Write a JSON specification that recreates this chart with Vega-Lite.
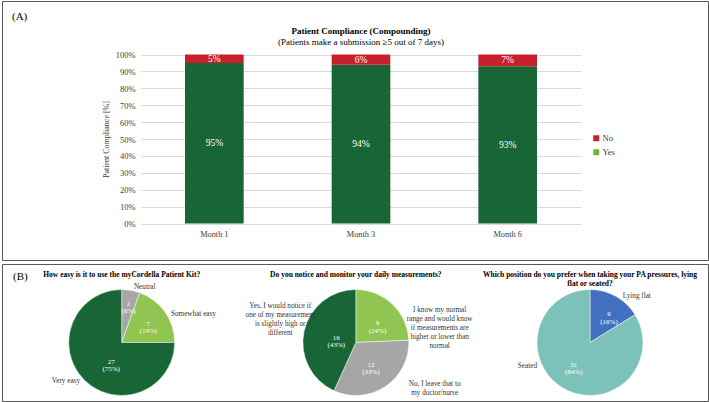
{
  "$schema": "https://vega.github.io/schema/vega-lite/v6.json",
  "background": "white",
  "padding": {"left": 1, "top": 0, "right": 2, "bottom": 0},
  "title": {"text": "(A)", "anchor": "start", "offset": -21, "dx": 10.5, "fontSize": 11, "fontWeight": "normal", "font": "Liberation Serif", "color": "#000000"},
  "spacing": 0,
  "resolve": {"scale": {"color": "independent"}, "legend": {"color": "independent"}},
  "vconcat": [
    {
      "width": 706,
      "height": 259,
      "title": {"text": "Patient Compliance (Compounding)", "subtitle": "(Patients make a submission ≥5 out of 7 days)", "anchor": "middle", "dx": 6, "offset": -46, "font": "Liberation Serif", "fontSize": 9, "fontWeight": "bold", "color": "#000000", "subtitleFont": "Liberation Serif", "subtitleFontSize": 9, "subtitleColor": "#000000", "subtitlePadding": 2},
      "data": {"values": [
        {"m": "Month 1", "ans": "Yes", "v": 0.95, "o": 1, "lab": "95%"},
        {"m": "Month 1", "ans": "No", "v": 0.05, "o": 2, "lab": "5%"},
        {"m": "Month 3", "ans": "Yes", "v": 0.94, "o": 1, "lab": "94%"},
        {"m": "Month 3", "ans": "No", "v": 0.06, "o": 2, "lab": "6%"},
        {"m": "Month 6", "ans": "Yes", "v": 0.93, "o": 1, "lab": "93%"},
        {"m": "Month 6", "ans": "No", "v": 0.07, "o": 2, "lab": "7%"}
      ]},
      "layer": [
        {
          "mark": {"type": "square", "opacity": 0, "size": 4},
          "encoding": {
            "x": {"field": "m", "type": "nominal", "scale": {"domain": ["Month 1", "Month 3", "Month 6"], "range": [139, 579], "paddingInner": 0.6, "paddingOuter": 0.3}, "axis": {"title": null, "orient": "bottom", "offset": -36.5, "domain": false, "ticks": false, "labelPadding": 6, "labelFontSize": 8.3, "labelColor": "#404040", "labelAngle": 0, "grid": false}},
            "y": {"field": "v", "type": "quantitative", "stack": null, "scale": {"domain": [0, 1], "range": [222.5, 53.5], "nice": false}, "axis": {"title": "Patient Compliance [%]", "orient": "left", "offset": -139, "format": ".0%", "values": [0, 0.1, 0.2, 0.3, 0.4, 0.5, 0.6, 0.7, 0.8, 0.9, 1], "domain": false, "ticks": false, "grid": true, "gridColor": "#d9d9d9", "gridWidth": 1, "labelPadding": 6, "labelFontSize": 8.5, "labelColor": "#404040", "titleFontSize": 8, "titleFontWeight": "normal", "titleColor": "#404040", "titlePadding": 5}},
            "color": {"field": "ans", "type": "nominal", "scale": {"domain": ["No", "Yes"], "range": ["#c8202b", "#6db33f"]}, "legend": {"title": null, "orient": "none", "legendX": 590, "legendY": 133, "symbolType": "square", "symbolSize": 36, "symbolOpacity": 1, "symbolStrokeWidth": 0, "labelFontSize": 8.5, "labelColor": "#404040", "labelOffset": 2, "rowPadding": 5, "padding": 0}}
          }
        },
        {
          "mark": {"type": "bar"},
          "encoding": {
            "x": {"field": "m", "type": "nominal", "scale": {"domain": ["Month 1", "Month 3", "Month 6"], "range": [139, 579], "paddingInner": 0.6, "paddingOuter": 0.3}, "axis": {"title": null, "orient": "bottom", "offset": -36.5, "domain": false, "ticks": false, "labelPadding": 6, "labelFontSize": 8.3, "labelColor": "#404040", "labelAngle": 0, "grid": false}},
            "y": {"field": "v", "type": "quantitative", "stack": "zero", "scale": {"domain": [0, 1], "range": [222.5, 53.5], "nice": false}, "axis": {"title": "Patient Compliance [%]", "orient": "left", "offset": -139, "format": ".0%", "values": [0, 0.1, 0.2, 0.3, 0.4, 0.5, 0.6, 0.7, 0.8, 0.9, 1], "domain": false, "ticks": false, "grid": true, "gridColor": "#d9d9d9", "gridWidth": 1, "labelPadding": 6, "labelFontSize": 8.5, "labelColor": "#404040", "titleFontSize": 8, "titleFontWeight": "normal", "titleColor": "#404040", "titlePadding": 5}},
            "fill": {"field": "ans", "type": "nominal", "scale": {"domain": ["No", "Yes"], "range": ["#c8202b", "#186636"]}, "legend": null},
            "detail": {"field": "ans", "type": "nominal"},
            "order": {"field": "o", "type": "quantitative"}
          }
        },
        {
          "mark": {"type": "text", "fill": "#ffffff", "fontSize": 9.5, "baseline": "middle", "align": "center"},
          "encoding": {
            "x": {"field": "m", "type": "nominal", "scale": {"domain": ["Month 1", "Month 3", "Month 6"], "range": [139, 579], "paddingInner": 0.6, "paddingOuter": 0.3}, "axis": {"title": null, "orient": "bottom", "offset": -36.5, "domain": false, "ticks": false, "labelPadding": 6, "labelFontSize": 8.3, "labelColor": "#404040", "labelAngle": 0, "grid": false}},
            "y": {"field": "v", "type": "quantitative", "stack": "zero", "bandPosition": 0.5, "scale": {"domain": [0, 1], "range": [222.5, 53.5], "nice": false}, "axis": {"title": "Patient Compliance [%]", "orient": "left", "offset": -139, "format": ".0%", "values": [0, 0.1, 0.2, 0.3, 0.4, 0.5, 0.6, 0.7, 0.8, 0.9, 1], "domain": false, "ticks": false, "grid": true, "gridColor": "#d9d9d9", "gridWidth": 1, "labelPadding": 6, "labelFontSize": 8.5, "labelColor": "#404040", "titleFontSize": 8, "titleFontWeight": "normal", "titleColor": "#404040", "titlePadding": 5}},
            "detail": {"field": "ans", "type": "nominal"},
            "order": {"field": "o", "type": "quantitative"},
            "text": {"field": "lab", "type": "nominal"}
          }
        }
      ]
    },
    {
      "width": 706,
      "height": 137,
      "title": {"text": "(B)", "anchor": "start", "offset": -20, "dx": 11, "fontSize": 11, "fontWeight": "normal", "font": "Liberation Serif", "color": "#000000"},
      "resolve": {"scale": {"theta": "independent"}},
      "layer": [
        {
          "data": {"values": [
            {"q": "q1", "t": "How easy is it to use the myCordella Patient Kit?"},
            {"q": "q2", "t": "Do you notice and monitor your daily measurements?"},
            {"q": "q3", "t": "Which position do you prefer when taking your PA pressures, lying\nflat or seated?"}
          ]},
          "mark": {"type": "text", "baseline": "top", "align": "center", "fontWeight": "bold", "fontSize": 7.5, "lineBreak": "\n", "lineHeight": 9, "fill": "#000000"},
          "encoding": {
            "x": {"field": "q", "type": "nominal", "scale": {"type": "point", "domain": ["q1", "q2", "q3"], "range": [119.7, 588], "padding": 0}, "axis": null},
            "y": {"datum": "title", "type": "nominal", "scale": {"type": "point", "domain": ["title", "pie"], "range": [6.5, 78.5], "padding": 0}, "axis": null},
            "text": {"field": "t", "type": "nominal"}
          }
        },
        {
          "data": {"values": [
            {"q": "q1", "cat": "neutral", "n": 2, "o": 1, "lab": "Neutral", "pct": "2\n(6%)"},
            {"q": "q1", "cat": "somewhat", "n": 7, "o": 2, "lab": "Somewhat easy", "pct": "7\n(19%)"},
            {"q": "q1", "cat": "very", "n": 27, "o": 3, "lab": "Very easy", "pct": "27\n(75%)"}
          ]},
          "encoding": {
            "theta": {"field": "n", "type": "quantitative", "stack": true},
            "order": {"field": "o", "type": "quantitative"},
            "detail": {"field": "cat", "type": "nominal"},
            "x": {"field": "q", "type": "nominal", "scale": {"type": "point", "domain": ["q1", "q2", "q3"], "range": [119.7, 588], "padding": 0}, "axis": null},
            "y": {"datum": "pie", "type": "nominal", "scale": {"type": "point", "domain": ["title", "pie"], "range": [6.5, 78.5], "padding": 0}, "axis": null}
          },
          "layer": [
            {"mark": {"type": "arc", "outerRadius": 53, "stroke": "#ffffff", "strokeWidth": 0.5},
             "encoding": {"color": {"field": "cat", "type": "nominal", "scale": {"domain": ["neutral", "somewhat", "very", "knowrange", "leave", "notice", "lying", "seated"], "range": ["#a6a6a6", "#8fc550", "#186636", "#8fc550", "#a6a6a6", "#186636", "#4170c0", "#7cc2b9"]}, "legend": null}}},
            {"mark": {"type": "text", "radius": 39.5, "fill": "#ffffff", "fontSize": 7, "lineBreak": "\n", "lineHeight": 7.2, "align": "center", "baseline": "middle"},
             "encoding": {"text": {"condition": {"test": "datum.cat === 'neutral'", "field": "pct", "type": "nominal"}, "value": ""}}},
            {"mark": {"type": "text", "radius": 32.5, "fill": "#ffffff", "fontSize": 7, "lineBreak": "\n", "lineHeight": 7.2, "align": "center", "baseline": "middle"},
             "encoding": {"text": {"condition": {"test": "datum.cat === 'somewhat'", "field": "pct", "type": "nominal"}, "value": ""}}},
            {"mark": {"type": "text", "radius": 22, "dx": 5, "dy": 4, "fill": "#ffffff", "fontSize": 7, "lineBreak": "\n", "lineHeight": 7.2, "align": "center", "baseline": "middle"},
             "encoding": {"text": {"condition": {"test": "datum.cat === 'very'", "field": "pct", "type": "nominal"}, "value": ""}}},
            {"mark": {"type": "text", "radius": 56, "dx": 2.5, "align": "left", "baseline": "middle", "fill": "#333333", "fontSize": 7.2, "lineBreak": "\n", "lineHeight": 8.9},
             "encoding": {"text": {"condition": {"test": "datum.cat === 'neutral'", "field": "lab", "type": "nominal"}, "value": ""}}},
            {"mark": {"type": "text", "radius": 57, "dx": 2.6, "dy": 3.7, "align": "left", "baseline": "middle", "fill": "#333333", "fontSize": 7.2, "lineBreak": "\n", "lineHeight": 8.9},
             "encoding": {"text": {"condition": {"test": "datum.cat === 'somewhat'", "field": "lab", "type": "nominal"}, "value": ""}}},
            {"mark": {"type": "text", "radius": 57, "dx": -1.4, "dy": -1.7, "align": "right", "baseline": "middle", "fill": "#333333", "fontSize": 7.2, "lineBreak": "\n", "lineHeight": 8.9},
             "encoding": {"text": {"condition": {"test": "datum.cat === 'very'", "field": "lab", "type": "nominal"}, "value": ""}}}
          ]
        },
        {
          "data": {"values": [
            {"q": "q2", "cat": "knowrange", "n": 9, "o": 1, "lab": "I know my normal\nrange and would know\nif measurements are\nhigher or lower than\nnormal", "pct": "9\n(24%)"},
            {"q": "q2", "cat": "leave", "n": 12, "o": 2, "lab": "No, I leave that to\nmy doctor/nurse", "pct": "12\n(33%)"},
            {"q": "q2", "cat": "notice", "n": 16, "o": 3, "lab": "Yes, I would notice if\none of my measurement\nis slightly high or\ndifferent", "pct": "16\n(43%)"}
          ]},
          "encoding": {
            "theta": {"field": "n", "type": "quantitative", "stack": true},
            "order": {"field": "o", "type": "quantitative"},
            "detail": {"field": "cat", "type": "nominal"},
            "x": {"field": "q", "type": "nominal", "scale": {"type": "point", "domain": ["q1", "q2", "q3"], "range": [119.7, 588], "padding": 0}, "axis": null},
            "y": {"datum": "pie", "type": "nominal", "scale": {"type": "point", "domain": ["title", "pie"], "range": [6.5, 78.5], "padding": 0}, "axis": null}
          },
          "layer": [
            {"mark": {"type": "arc", "outerRadius": 53, "stroke": "#ffffff", "strokeWidth": 0.5},
             "encoding": {"color": {"field": "cat", "type": "nominal", "scale": {"domain": ["neutral", "somewhat", "very", "knowrange", "leave", "notice", "lying", "seated"], "range": ["#a6a6a6", "#8fc550", "#186636", "#8fc550", "#a6a6a6", "#186636", "#4170c0", "#7cc2b9"]}, "legend": null}}},
            {"mark": {"type": "text", "radius": 29, "dx": 1.6, "dy": 1.9, "fill": "#ffffff", "fontSize": 7, "lineBreak": "\n", "lineHeight": 7.2, "align": "center", "baseline": "middle"},
             "encoding": {"text": {"condition": {"test": "datum.cat === 'knowrange'", "field": "pct", "type": "nominal"}, "value": ""}}},
            {"mark": {"type": "text", "radius": 27, "fill": "#ffffff", "fontSize": 7, "lineBreak": "\n", "lineHeight": 7.2, "align": "center", "baseline": "middle"},
             "encoding": {"text": {"condition": {"test": "datum.cat === 'leave'", "field": "pct", "type": "nominal"}, "value": ""}}},
            {"mark": {"type": "text", "radius": 20, "fill": "#ffffff", "fontSize": 7, "lineBreak": "\n", "lineHeight": 7.2, "align": "center", "baseline": "middle"},
             "encoding": {"text": {"condition": {"test": "datum.cat === 'notice'", "field": "pct", "type": "nominal"}, "value": ""}}},
            {"mark": {"type": "text", "radius": 60, "dx": 42.3, "dy": 11.3, "align": "center", "baseline": "middle", "fill": "#333333", "fontSize": 7.2, "lineBreak": "\n", "lineHeight": 8.9},
             "encoding": {"text": {"condition": {"test": "datum.cat === 'knowrange'", "field": "lab", "type": "nominal"}, "value": ""}}},
            {"mark": {"type": "text", "radius": 60, "dx": 45.2, "dy": -8, "align": "center", "baseline": "middle", "fill": "#333333", "fontSize": 7.2, "lineBreak": "\n", "lineHeight": 8.9},
             "encoding": {"text": {"condition": {"test": "datum.cat === 'leave'", "field": "lab", "type": "nominal"}, "value": ""}}},
            {"mark": {"type": "text", "radius": 60, "dx": -17, "dy": -23.7, "align": "center", "baseline": "middle", "fill": "#333333", "fontSize": 7.2, "lineBreak": "\n", "lineHeight": 8.9},
             "encoding": {"text": {"condition": {"test": "datum.cat === 'notice'", "field": "lab", "type": "nominal"}, "value": ""}}}
          ]
        },
        {
          "data": {"values": [
            {"q": "q3", "cat": "lying", "n": 6, "o": 1, "lab": "Lying flat", "pct": "6\n(16%)"},
            {"q": "q3", "cat": "seated", "n": 31, "o": 2, "lab": "Seated", "pct": "31\n(84%)"}
          ]},
          "encoding": {
            "theta": {"field": "n", "type": "quantitative", "stack": true},
            "order": {"field": "o", "type": "quantitative"},
            "detail": {"field": "cat", "type": "nominal"},
            "x": {"field": "q", "type": "nominal", "scale": {"type": "point", "domain": ["q1", "q2", "q3"], "range": [119.7, 588], "padding": 0}, "axis": null},
            "y": {"datum": "pie", "type": "nominal", "scale": {"type": "point", "domain": ["title", "pie"], "range": [6.5, 78.5], "padding": 0}, "axis": null}
          },
          "layer": [
            {"mark": {"type": "arc", "outerRadius": 53, "stroke": "#ffffff", "strokeWidth": 0.5},
             "encoding": {"color": {"field": "cat", "type": "nominal", "scale": {"domain": ["neutral", "somewhat", "very", "knowrange", "leave", "notice", "lying", "seated"], "range": ["#a6a6a6", "#8fc550", "#186636", "#8fc550", "#a6a6a6", "#186636", "#4170c0", "#7cc2b9"]}, "legend": null}}},
            {"mark": {"type": "text", "radius": 34, "dx": 2.4, "dy": 1.5, "fill": "#ffffff", "fontSize": 7, "lineBreak": "\n", "lineHeight": 7.2, "align": "center", "baseline": "middle"},
             "encoding": {"text": {"condition": {"test": "datum.cat === 'lying'", "field": "pct", "type": "nominal"}, "value": ""}}},
            {"mark": {"type": "text", "radius": 28, "dx": -2.6, "dy": -1.9, "fill": "#ffffff", "fontSize": 7, "lineBreak": "\n", "lineHeight": 7.2, "align": "center", "baseline": "middle"},
             "encoding": {"text": {"condition": {"test": "datum.cat === 'seated'", "field": "pct", "type": "nominal"}, "value": ""}}},
            {"mark": {"type": "text", "radius": 57, "dx": 4.9, "dy": 3, "align": "left", "baseline": "middle", "fill": "#333333", "fontSize": 7.2, "lineBreak": "\n", "lineHeight": 8.9},
             "encoding": {"text": {"condition": {"test": "datum.cat === 'lying'", "field": "lab", "type": "nominal"}, "value": ""}}},
            {"mark": {"type": "text", "radius": 57, "dx": -25.2, "dy": -26.3, "align": "right", "baseline": "middle", "fill": "#333333", "fontSize": 7.2, "lineBreak": "\n", "lineHeight": 8.9},
             "encoding": {"text": {"condition": {"test": "datum.cat === 'seated'", "field": "lab", "type": "nominal"}, "value": ""}}}
          ]
        }
      ]
    }
  ],
  "config": {
    "font": "Liberation Serif",
    "view": {"stroke": "#595959", "strokeWidth": 1},
    "text": {"font": "Liberation Serif"},
    "axis": {"labelFont": "Liberation Serif", "titleFont": "Liberation Serif"},
    "legend": {"labelFont": "Liberation Serif"},
    "title": {"font": "Liberation Serif", "subtitleFont": "Liberation Serif"}
  }
}
